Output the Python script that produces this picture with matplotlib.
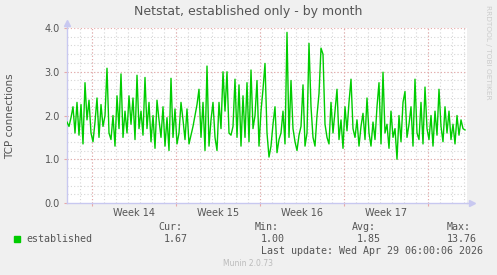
import numpy as np
import matplotlib
matplotlib.use('Agg')
import matplotlib.pyplot as plt
from matplotlib.patches import Rectangle

# established connections, one sample per ~4 hours
established = [
    1.85, 1.75, 1.95, 2.2, 1.6, 2.3, 1.55, 2.25, 1.35, 2.75,
    1.9, 2.35, 1.6, 1.4, 1.85, 2.4, 1.5, 2.25, 1.75, 2.0,
    3.08, 1.6, 1.45, 2.0, 1.3, 2.45, 1.7, 2.95, 1.5, 2.1,
    1.6, 2.45, 1.8, 2.4, 1.45, 2.92, 1.7, 2.1, 1.55, 2.87,
    1.7, 2.3, 1.4, 2.0, 1.25, 2.35, 1.9, 1.5, 2.2, 1.3,
    1.95, 1.2, 2.85, 1.5, 2.15, 1.35, 1.6, 2.3, 1.9, 1.45,
    2.15, 1.35, 1.55, 1.75, 2.0, 2.25, 2.6, 1.5, 2.3, 1.2,
    3.13, 1.3, 1.9, 2.3, 1.5, 1.2, 2.3, 1.7, 3.0, 2.1,
    3.0, 1.6, 1.55, 1.75, 2.83, 1.5, 2.7, 1.3, 2.45, 1.5,
    2.75, 1.4, 3.04, 1.7, 2.0, 2.8, 1.3, 2.1, 2.6, 3.19,
    1.6, 1.05, 1.3, 1.8, 2.2, 1.15, 1.45, 1.6, 2.1, 1.35,
    3.9, 1.5, 2.8, 1.7, 1.4, 1.2, 1.55, 1.75, 2.7, 1.3,
    1.6, 3.65, 2.2, 1.5, 1.3, 2.0, 2.5, 3.54, 3.4, 1.8,
    1.5, 1.35, 2.3, 1.6, 2.1, 2.6, 1.45, 1.9, 1.25, 2.2,
    1.65, 2.3, 2.83, 1.7, 1.5, 1.9, 1.3, 1.75, 2.05, 1.45,
    2.4, 1.6, 1.3, 1.85, 1.45, 2.2, 2.75, 1.35, 2.99, 1.6,
    1.8, 1.25, 2.1, 1.5, 1.7, 1.0, 2.0, 1.4, 2.3, 2.55,
    1.5, 1.8, 2.2, 1.3, 2.83, 1.6, 1.45, 2.3, 1.35, 2.65,
    1.7, 1.45, 2.0, 1.3, 2.1, 1.55, 2.6, 1.75, 1.4, 2.2,
    1.6, 2.1, 1.45, 1.8, 1.35, 2.0, 1.55, 1.9, 1.7, 1.67,
]
sample_step = 1 / 6  # days
week_starts = [2.05, 9.05, 16.05, 23.05, 30.05]
week_labels = ['Week 14', 'Week 15', 'Week 16', 'Week 17']
y_ticks = [0.0, 1.0, 2.0, 3.0, 4.0]

legend_stats = {'Cur:': '1.67', 'Min:': '1.00', 'Avg:': '1.85', 'Max:': '13.76'}
last_update = 'Last update: Wed Apr 29 06:00:06 2026'

W, H = 497, 275
bg = '#f0f0f0'
txt = '#555555'
green = '#00cc00'
axis_col = '#c8c8f0'

fig = plt.figure(figsize=(W / 100, H / 100), dpi=100, facecolor=bg)
ax = fig.add_axes([67 / W, (H - 203) / H, 400 / W, 175 / H])
ax.set_facecolor('white')

x_end = 400 / 12
ax.set_xlim(0, x_end)
ax.set_ylim(0, 4.0)

# grid
day = week_starts[0] - 2
while day < x_end:
    if day > 0.05:
        ax.axvline(day, color='#d6d6d6', lw=0.8, ls=(0, (1, 2)), zorder=1)
    day += 1
for v in np.arange(0.2, 4.0, 0.2):
    ax.axhline(v, color='#d6d6d6', lw=0.8, ls=(0, (1, 2)), zorder=1)
for w in week_starts:
    ax.axvline(w, color='#e8a8a8', lw=0.8, ls=(0, (1, 2)), zorder=2)
for v in y_ticks[1:]:
    ax.axhline(v, color='#e8a8a8', lw=0.8, ls=(0, (1, 2)), zorder=2)

xs = np.arange(len(established)) * sample_step
ax.plot(xs, established, color=green, lw=1.0, zorder=3)

for s in ['top', 'right']:
    ax.spines[s].set_visible(False)
for s in ['left', 'bottom']:
    ax.spines[s].set_color(axis_col)
    ax.spines[s].set_linewidth(1.0)

# axis arrows
ax.plot([0], [4.12], marker='^', color=axis_col, ms=4, clip_on=False, zorder=4)
ax.plot([x_end + 0.4], [0], marker='>', color=axis_col, ms=4, clip_on=False, zorder=4)
ax.plot([0, 0], [4.0, 4.12], color=axis_col, lw=1.0, clip_on=False)
ax.plot([x_end, x_end + 0.4], [0, 0], color=axis_col, lw=1.0, clip_on=False)

ax.set_yticks(y_ticks)
ax.set_yticklabels(['%.1f' % v for v in y_ticks])
ax.tick_params(axis='y', length=2, color='#e8a8a8', labelsize=7, labelcolor=txt, pad=3)
ax.set_xticks(week_starts)
ax.set_xticklabels([])
ax.tick_params(axis='x', length=2, color='#e8a8a8')
for i, lab in enumerate(week_labels):
    mid = (week_starts[i] + week_starts[i + 1]) / 2
    ax.text(mid, -0.12, lab, ha='center', va='top', fontsize=7, color=txt)

fig.text(248 / W, 1 - 11 / H, 'Netstat, established only - by month',
         ha='center', va='center', fontsize=9, color=txt)
fig.text(10 / W, 1 - 116 / H, 'TCP connections', rotation=90,
         ha='center', va='center', fontsize=7.5, color=txt)
fig.text(488 / W, 1 - 5 / H, 'RRDTOOL / TOBI OETIKER', rotation=270,
         ha='center', va='top', fontsize=5.3, color='#cccccc')

# legend
mono = 'DejaVu Sans Mono'
fig.patches.append(Rectangle((14 / W, 1 - 242 / H), 6 / W, 6 / H,
                             transform=fig.transFigure, color=green))
fig.text(26 / W, 1 - 239 / H, 'established', family=mono, fontsize=7.2,
         color=txt, va='center')
head_x = [158, 255, 352, 447]
val_x = [164, 261, 357, 447]
for (k, v), hx, vx in zip(legend_stats.items(), head_x, val_x):
    fig.text(hx / W, 1 - 227 / H, k, family=mono, fontsize=7.2, color=txt, va='center')
    fig.text(vx / W, 1 - 239 / H, v, family=mono, fontsize=7.2, color=txt, va='center')
fig.text(261 / W, 1 - 251.5 / H, last_update, family=mono, fontsize=7.2,
         color=txt, va='center')
fig.text(248 / W, 1 - 264 / H, 'Munin 2.0.73', ha='center', va='center',
         fontsize=5.5, color='#bbbbbb')

fig.savefig('out.png', dpi=100, facecolor=bg)
